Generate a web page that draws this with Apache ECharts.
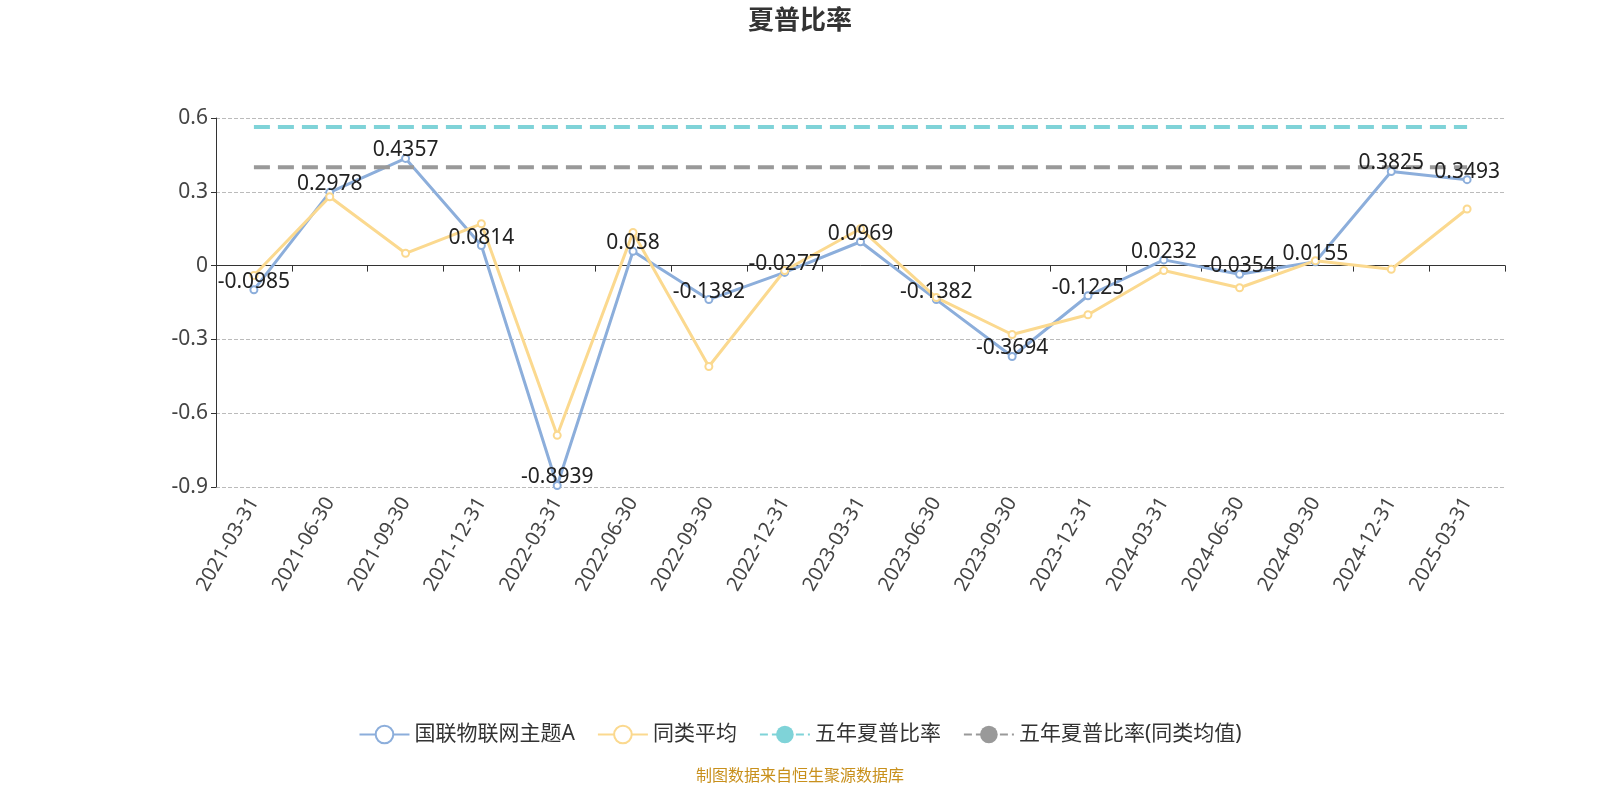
<!DOCTYPE html>
<html><head><meta charset="utf-8">
<script src="https://cdn.jsdelivr.net/npm/echarts@6/dist/echarts.min.js"></script>
<style>html,body{margin:0;padding:0;}#c{width:1600px;height:800px;}</style>
</head><body><div id="c"></div>
<script>
const categories=['2021-03-31','2021-06-30','2021-09-30','2021-12-31','2022-03-31','2022-06-30','2022-09-30','2022-12-31','2023-03-31','2023-06-30','2023-09-30','2023-12-31','2024-03-31','2024-06-30','2024-09-30','2024-12-31','2025-03-31'];
const fundValues=[-0.0985,0.2978,0.4357,0.0814,-0.8939,0.058,-0.1382,-0.0277,0.0969,-0.1382,-0.3694,-0.1225,0.0232,-0.0354,0.0155,0.3825,0.3493];
const peerValues=[-0.04,0.28,0.05,0.17,-0.69,0.135,-0.41,-0.02,0.15,-0.13,-0.28,-0.2,-0.02,-0.09,0.02,-0.015,0.23];
const fiveYear=0.563;
const fiveYearPeer=0.40;
const names=['国联物联网主题A','同类平均','五年夏普比率','五年夏普比率(同类均值)'];
const chart=echarts.init(document.getElementById('c'));
const ff='"Noto Sans","Noto Sans CJK SC",sans-serif';
chart.setOption({
  textStyle:{fontFamily:ff},
  title:{text:'夏普比率',left:'center',top:4,textStyle:{fontSize:26,fontWeight:'bold',color:'#333',fontFamily:ff}},
  grid:{left:216,right:95,top:118,bottom:313,outerBoundsMode:'none',containLabel:false},
  legend:{bottom:50,itemWidth:50,itemHeight:22,itemGap:22,textStyle:{fontSize:21,color:'#333'},
    data:names},
  xAxis:{type:'category',data:categories,boundaryGap:true,
    axisLine:{onZero:true,lineStyle:{color:'#333'}},axisTick:{show:true,length:6},
    axisLabel:{rotate:60,fontSize:20,color:'#444',interval:0,margin:12}},
  yAxis:{type:'value',min:-0.9,max:0.6,interval:0.3,
    axisLine:{show:true,lineStyle:{color:'#333'}},axisTick:{show:true},
    axisLabel:{fontSize:21,color:'#444',formatter:v=>String(Math.round(v*10)/10)},
    splitLine:{lineStyle:{type:'dashed',color:'#bbb'}}},
  series:[
    {name:names[0],type:'line',data:fundValues,symbol:'emptyCircle',symbolSize:7,color:'#8caedb',lineStyle:{width:3},
      label:{show:true,fontSize:21,color:'#222',position:'top',offset:[0,12]}},
    {name:names[1],type:'line',data:peerValues,symbol:'emptyCircle',symbolSize:7,color:'#fbd98f',lineStyle:{width:3}},
    {name:names[2],type:'line',data:categories.map(()=>fiveYear),symbol:'none',color:'#7fd3d8',lineStyle:{width:4,type:'dashed'}},
    {name:names[3],type:'line',data:categories.map(()=>fiveYearPeer),symbol:'none',color:'#999',lineStyle:{width:4,type:'dashed'}}
  ],
  graphic:[{type:'text',left:'center',bottom:16,style:{text:'制图数据来自恒生聚源数据库',fontSize:16,fill:'#c8901c',fontFamily:ff}}]
});
</script></body></html>
